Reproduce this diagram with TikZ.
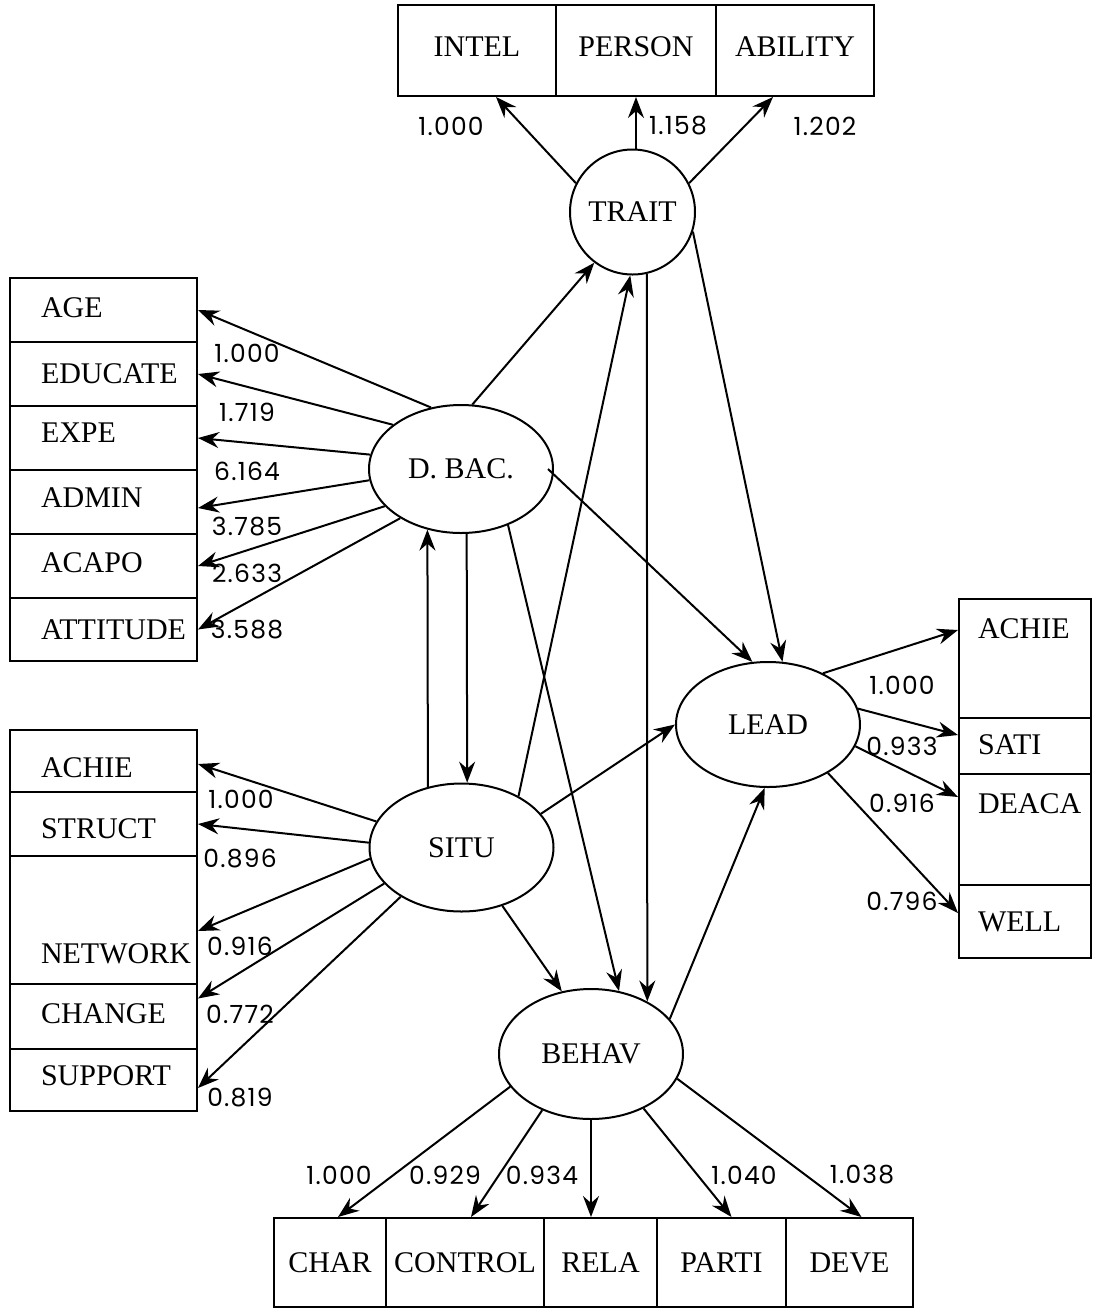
\documentclass[tikz,border=0pt]{standalone}
\usepackage{fontspec}
\setmainfont{Liberation Serif}
\newfontfamily\coeffont[LetterSpace=5]{Poppins}
\usetikzlibrary{arrows.meta,shapes.geometric}
\newcommand\liftby[2]{\raisebox{#1}[\height][\depth]{#2}}
\newcommand\lefttxt[3]{\makebox[#1][l]{\liftby{#2}{#3}}}
\tikzset{
  obs/.style={draw, rectangle, line width=1pt, inner ysep=0pt, anchor=north west,
    font=\fontsize{15}{18}\selectfont},
  leftbox/.style={obs, minimum width=93.5pt, inner xsep=15.5pt},
  rightbox/.style={obs, minimum width=66pt, inner xsep=9.5pt},
  lat/.style={draw, ellipse, line width=1pt, minimum width=92pt, minimum height=64pt,
    inner sep=0pt, font=\fontsize{15}{18}\selectfont},
  path/.style={-{Stealth[length=10.5pt,width=8pt,inset=3.5pt]}, line width=1pt},
  coef/.style={font=\coeffont\fontsize{12.5}{14}\selectfont, inner sep=0pt}
}
\begin{document}
\begin{tikzpicture}[x=0.5pt,y=-0.5pt]
\useasboundingbox (0,0) rectangle (1097,1308);
\node[obs, minimum width=79pt, minimum height=45.5pt] (intel) at (397,4) {\liftby{1.75pt}{INTEL}};
\node[obs, minimum width=80pt, minimum height=45.5pt] (person) at (555,4) {\liftby{1.75pt}{PERSON}};
\node[obs, minimum width=79pt, minimum height=45.5pt] (ability) at (715,4) {\liftby{1.75pt}{ABILITY}};
\node[leftbox, minimum height=32pt] (age) at (9,277) {\lefttxt{62.5pt}{1pt}{AGE}};
\node[leftbox, minimum height=32pt] (educate) at (9,341) {\lefttxt{62.5pt}{0pt}{EDUCATE}};
\node[leftbox, minimum height=32pt] (expe) at (9,405) {\lefttxt{62.5pt}{2.5pt}{EXPE}};
\node[leftbox, minimum height=32pt] (admin) at (9,469) {\lefttxt{62.5pt}{2pt}{ADMIN}};
\node[leftbox, minimum height=32pt] (acapo) at (9,533) {\lefttxt{62.5pt}{1.5pt}{ACAPO}};
\node[leftbox, minimum height=31.5pt] (attitude) at (9,597) {\lefttxt{62.5pt}{0pt}{ATTITUDE}};
\node[leftbox, minimum height=31pt] (achies) at (9,729) {\lefttxt{62.5pt}{-3.5pt}{ACHIE}};
\node[leftbox, minimum height=32pt] (struct) at (9,791) {\lefttxt{62.5pt}{-2.5pt}{STRUCT}};
\node[leftbox, minimum height=64pt] (network) at (9,855) {\lefttxt{62.5pt}{-17pt}{NETWORK}};
\node[leftbox, minimum height=32.5pt] (change) at (9,983) {\lefttxt{62.5pt}{1.25pt}{CHANGE}};
\node[leftbox, minimum height=31pt] (support) at (9,1048) {\lefttxt{62.5pt}{2pt}{SUPPORT}};
\node[rightbox, minimum height=59.5pt] (achiel) at (958,598) {\lefttxt{47pt}{14.75pt}{ACHIE}};
\node[rightbox, minimum height=28pt] (sati) at (958,717) {\lefttxt{47pt}{0.5pt}{SATI}};
\node[rightbox, minimum height=55.5pt] (deaca) at (958,773) {\lefttxt{47pt}{12.75pt}{DEACA}};
\node[rightbox, minimum height=36.5pt] (well) at (958,884) {\lefttxt{47pt}{0pt}{WELL}};
\node[obs, minimum width=56pt, minimum height=44.5pt] (char) at (273,1217) {CHAR};
\node[obs, minimum width=79pt, minimum height=44.5pt] (control) at (385,1217) {CONTROL};
\node[obs, minimum width=56.5pt, minimum height=44.5pt] (rela) at (543,1217) {RELA};
\node[obs, minimum width=64.5pt, minimum height=44.5pt] (parti) at (656,1217) {PARTI};
\node[obs, minimum width=63.5pt, minimum height=44.5pt] (deve) at (785,1217) {DEVE};
\node[lat, circle, minimum size=62.5pt] (trait) at (632.5,212) {TRAIT};
\node[lat] (dbac) at (461,469) {D. BAC.};
\node[lat] (situ) at (461.5,847.5) {SITU};
\node[lat, minimum height=62.5pt] (lead) at (768,724.5) {LEAD};
\node[lat, minimum height=65pt] (behav) at (591,1054) {BEHAV};
\draw[path] (trait.153) -- ([xshift=9.5pt]intel.south);
\draw[path] (person.south |- trait.north) -- (person.south);
\draw[path] (trait.27) -- ([xshift=-11pt]ability.south);
\draw[path] (dbac.116) -- (age.east);
\draw[path] (dbac.147) -- (educate.east);
\draw[path] (dbac.171) -- (expe.east);
\draw[path] (dbac.187) -- ([yshift=-3pt]admin.east);
\draw[path] (dbac.206) -- (acapo.east);
\draw[path] (dbac.219) -- (attitude.east);
\draw[path] (situ.163) -- ([yshift=-1.5pt]achies.east);
\draw[path] (situ.177) -- (struct.east);
\draw[path] (situ.187) -- ([yshift=-5.5pt]network.east);
\draw[path] (situ.205) -- ([yshift=9pt]change.east);
\draw[path] (situ.219) -- ([yshift=-4pt]support.east);
\draw[path] (lead.43) -- ([yshift=14.25pt]achiel.west);
\draw[path] (lead.10) -- ([yshift=5.5pt]sati.west);
\draw[path] (lead.346) -- ([yshift=16.25pt]deaca.west);
\draw[path] (lead.321) -- ([yshift=4.25pt]well.west);
\draw[path] (behav.202) -- ([xshift=4pt]char.north);
\draw[path] (behav.229) -- ([xshift=3pt]control.north);
\draw[path] (behav.south) -- (behav.south |- rela.north);
\draw[path] (behav.314) -- ([xshift=5pt]parti.north);
\draw[path] (behav.344) -- ([xshift=6pt]deve.north);
\draw[path] (dbac.80) -- (trait.233);
\draw[path] (situ.42) -- (trait.268);
\draw[path] (trait.283) -- (behav.43);
\draw[path] (trait.342) -- (lead.77);
\draw[path] ([xshift=-3pt]dbac.east) -- (lead.104);
\draw[path] (situ.119) -- (dbac.241);
\draw[path] (dbac.275) -- (situ.85);
\draw[path] (dbac.310) -- (behav.66);
\draw[path] (situ.305) -- (behav.115);
\draw[path] (situ.23) -- (lead.180);
\draw[path] (behav.24) -- (lead.267);
\node[coef] (c-intel) at (451,126) {1.000};
\node[coef] (c-person) at (678,126) {1.158};
\node[coef] (c-ability) at (825,126) {1.202};
\node[coef] (c-age) at (247,353) {1.000};
\node[coef] (c-educate) at (247,412) {1.719};
\node[coef] (c-expe) at (247,471) {6.164};
\node[coef] (c-admin) at (247,527) {3.785};
\node[coef] (c-acapo) at (247,573) {2.633};
\node[coef] (c-attitude) at (247,630) {3.588};
\node[coef] (c-achies) at (241,799) {1.000};
\node[coef] (c-struct) at (240,859) {0.896};
\node[coef] (c-network) at (240,946) {0.916};
\node[coef] (c-change) at (240,1014) {0.772};
\node[coef] (c-support) at (240,1098) {0.819};
\node[coef] (c-achiel) at (902,685) {1.000};
\node[coef] (c-sati) at (902,746) {0.933};
\node[coef] (c-deaca) at (902,803) {0.916};
\node[coef] (c-well) at (902,901) {0.796};
\node[coef] (c-char) at (339,1175) {1.000};
\node[coef] (c-control) at (445,1175) {0.929};
\node[coef] (c-rela) at (542,1175) {0.934};
\node[coef] (c-parti) at (744,1175) {1.040};
\node[coef] (c-deve) at (862,1175) {1.038};
\end{tikzpicture}
\end{document}
